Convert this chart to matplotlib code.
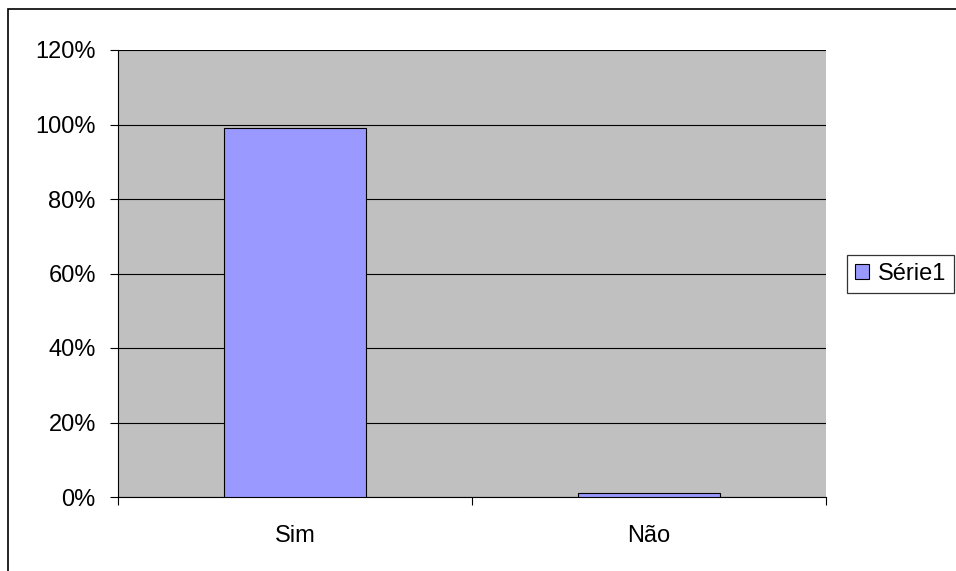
import matplotlib
matplotlib.use('Agg')
import matplotlib.pyplot as plt
from matplotlib.ticker import PercentFormatter

plt.rcParams['font.family'] = ['Liberation Sans', 'DejaVu Sans']

categories = ['Sim', 'Não']
valores = [99, 1]
serie = 'Série1'
yticks = [0, 20, 40, 60, 80, 100, 120]

fig = plt.figure(figsize=(9.56, 5.71), dpi=100)
ax = fig.add_axes([118/956, 1 - 497/571, (826-118)/956, (497-50)/571])
ax.set_facecolor('#c0c0c0')

x = list(range(len(categories)))
ax.bar(x, valores, width=0.4, color='#9999ff', edgecolor='black', linewidth=0.8,
       label=serie, zorder=3)

ax.set_xlim(-0.5, len(categories) - 0.5)
ax.set_ylim(0, 120)
ax.set_yticks(yticks)
ax.yaxis.set_major_formatter(PercentFormatter(decimals=0))
ax.grid(axis='y', color='black', linewidth=0.8, zorder=1)

# category labels centered, tick marks at category boundaries
ax.set_xticks(x)
ax.set_xticklabels(categories)
ax.tick_params(axis='x', length=0, labelsize=17, pad=20)
ax.set_xticks([-0.5, 0.5, 1.5], minor=True)
ax.tick_params(axis='x', which='minor', length=6, width=0.8, color='black')
ax.tick_params(axis='y', length=6, width=0.8, labelsize=17, pad=10)

for side in ['top', 'right']:
    ax.spines[side].set_visible(False)
for side in ['left', 'bottom']:
    ax.spines[side].set_linewidth(0.8)

leg = fig.legend(loc='center left', bbox_to_anchor=(847/956, 1 - 274/571),
                 frameon=True, fancybox=False, edgecolor='black', fontsize=17,
                 handlelength=0.6, handleheight=0.6, handletextpad=0.35,
                 borderpad=0.35, borderaxespad=0)
leg.get_frame().set_linewidth(0.9)

# outer frame of the chart (runs off the right and bottom edges)
fig.patches.append(plt.Rectangle((8/956, -0.01), 1.0, 1.01 - 9/571,
                                 transform=fig.transFigure,
                                 fill=False, edgecolor='black', linewidth=1.2))

fig.savefig('out.png', dpi=100)
